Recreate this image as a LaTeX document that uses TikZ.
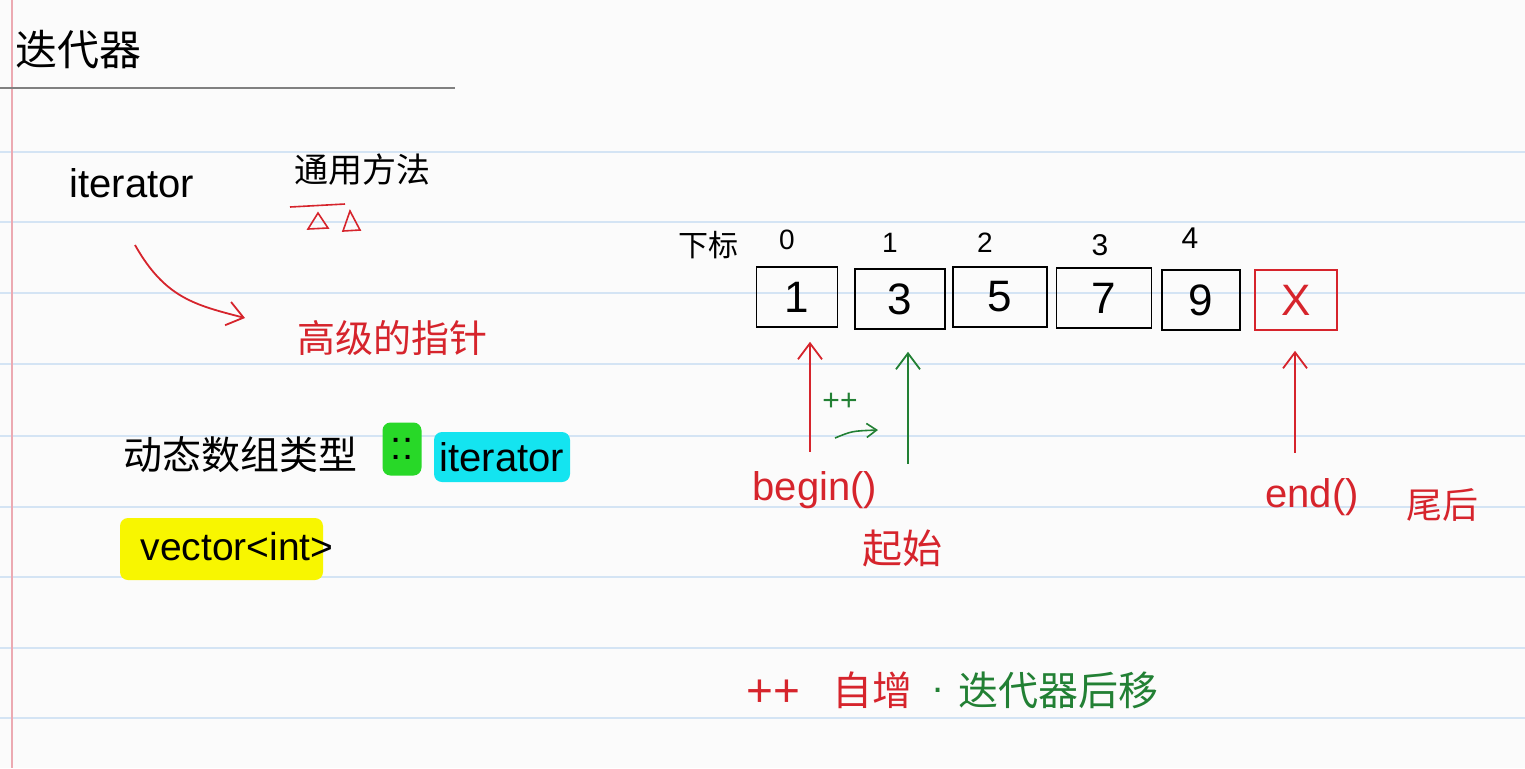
\documentclass[tikz,border=0pt]{standalone}
\usepackage{fontspec}
\setmainfont{Liberation Sans}
\newfontfamily\cjk{Noto Sans CJK SC}
\usetikzlibrary{arrows.meta,calc}
\definecolor{rink}{RGB}{214,36,44}
\definecolor{gink}{RGB}{34,128,52}
\definecolor{ruleblue}{RGB}{212,228,244}
\definecolor{marginred}{RGB}{236,170,178}
\definecolor{hlgreen}{RGB}{40,216,40}
\definecolor{hlcyan}{RGB}{20,228,240}
\definecolor{hlyellow}{RGB}{248,246,0}
\definecolor{paper}{RGB}{251,251,251}
\newcommand{\fs}[1]{\fontsize{#1}{#1}\selectfont}
\begin{document}
\begin{tikzpicture}[x=0.5pt,y=-0.5pt,
  txt/.style={inner sep=0pt, anchor=center},
  cell/.style={draw=black, line width=0.8pt, minimum height=30pt, inner sep=0pt, font=\fs{22}},
  arr/.style={-{Straight Barb[length=8pt,width=12pt]}, line width=0.9pt},
  arrs/.style={-{Straight Barb[length=5pt,width=7pt]}, line width=0.8pt},
  hl/.style={inner sep=0pt, rounded corners=4pt}
]
\useasboundingbox (0,0) rectangle (1525,768);
\fill[paper] (0,0) rectangle (1525,768);
\foreach \y in {152,222,293,364,436,507,577,648,718}
  \draw[ruleblue, line width=0.6pt] (0,\y) -- (1525,\y);
\draw[marginred, line width=0.6pt] (12,0) -- (12,768);
\draw[gray, line width=0.6pt] (0,88) -- (455,88);

% title
\node[txt, font=\cjk\fs{21}] (title) at (79,50) {迭代器};

% left part
\node[txt, font=\fs{20}] (iter) at (132,183) {iterator};
\node[txt, font=\cjk\fs{17}] (method) at (362,170) {通用方法};
\draw[rink, line width=0.8pt] (290,207) -- (345,204);
\draw[rink, line width=0.8pt] (318,213) -- (308,229) -- (328,228) -- cycle;
\draw[rink, line width=0.8pt] (350,211) -- (343,231) -- (360,230) -- cycle;
\node[txt, font=\cjk\fs{19}, text=rink] (adv) at (392,338) {高级的指针};
\coordinate (cs) at (135,245);
\coordinate (ce) at (245,318);
\draw[arr, rink] (cs) .. controls (165,298) and (195,305) .. (ce);

\node[txt, font=\cjk\fs{19.5}] (dyn) at (240,455) {动态数组类型};
\node[hl, fill=hlgreen, minimum width=19.5pt, minimum height=26.5pt, font=\fs{20}] (colons) at (402,449) {::};
\node[hl, fill=hlcyan, minimum width=68pt, minimum height=25pt, font=\fs{20}] (it2) at (502,457) {iterator};
\fill[hlyellow, rounded corners=4pt] (120,518) rectangle (323,580);
\node[txt, font=\fs{19.5}] (vec) at (237,547) {vector<int>};

% array
\node[txt, font=\cjk\fs{15}] (sub) at (708,245) {下标};
\node[cell, minimum width=40.5pt] (b1) at (797,297) {1};
\node[cell, minimum width=45pt] (b3) at (900,299) {3};
\node[cell, minimum width=47pt] (b5) at (1000,297) {5};
\node[cell, minimum width=47.5pt] (b7) at (1104,298) {7};
\node[cell, minimum width=39pt] (b9) at (1201,300) {9};
\node[cell, draw=rink, text=rink, minimum width=41pt] (bx) at (1296,300) {X};
\node[txt, font=\fs{14}] (i0) at (787,240) {0};
\node[txt, font=\fs{14}] (i1) at (890,243) {1};
\node[txt, font=\fs{14}] (i2) at (985,243) {2};
\node[txt, font=\fs{15}] (i3) at (1100,245) {3};
\node[txt, font=\fs{15}] (i4) at (1190,238) {4};

% begin
\node[txt, font=\fs{20}, text=rink] (beg) at (815,490) {begin()};
\node[txt, font=\cjk\fs{20}, text=rink] (start) at (902,548) {起始};
\draw[arr, rink] ($(b1.south)+(13,124)$) -- ($(b1.south)+(13,14)$);
\node[txt, font=\fs{15}, text=gink] (pp) at (840,402) {++};
\coordinate (gs) at (835,438);
\coordinate (ge) at (878,430);
\draw[arrs, gink] (gs) .. controls (852,431) .. (ge);
\draw[arr, gink] ($(b3.south)+(8,134)$) -- ($(b3.south)+(8,22)$);

% end
\node[txt, font=\fs{20}, text=rink] (endl) at (1312,497) {end()};
\node[txt, font=\cjk\fs{18}, text=rink] (tail) at (1442,505) {尾后};
\draw[arr, rink] ($(bx.south)+(-1,122)$) -- ($(bx.south)+(-1,20)$);

% bottom note
\node[txt, font=\fs{23}, text=rink] (pp2) at (773,693) {++};
\node[txt, font=\cjk\fs{20}, text=rink] (inc) at (872,690) {自增};
\node[txt, font=\fs{20}, text=gink] (dot) at (938,690) {.};
\node[txt, font=\cjk\fs{20}, text=gink] (move) at (1058,690) {迭代器后移};
\end{tikzpicture}
\end{document}
